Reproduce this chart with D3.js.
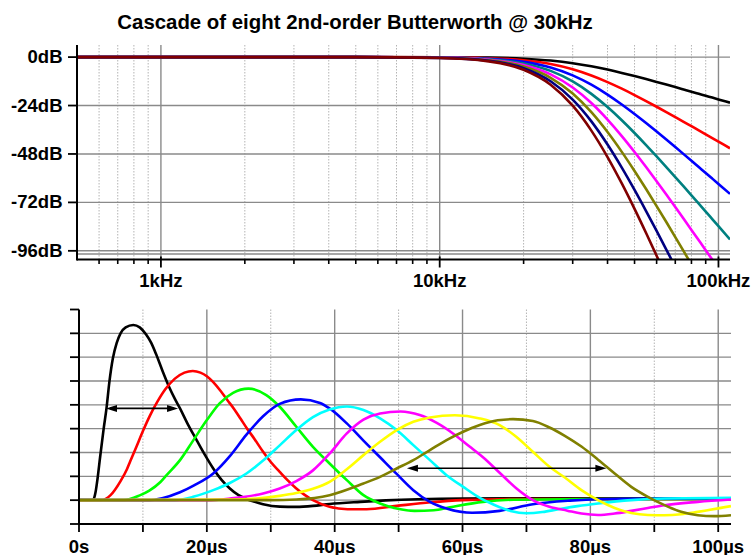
<!DOCTYPE html>
<html>
<head>
<meta charset="utf-8">
<script src="https://cdn.jsdelivr.net/npm/d3@7"></script>
<style>
  html, body { margin: 0; background: #ffffff; }
  svg { display: block; font-family: "Liberation Sans", Arial, sans-serif; font-weight: bold; }
</style>
</head>
<body>
<svg id="chart" width="753" height="555"></svg>
<script>
// ---- Frequency response: n cascaded 2nd-order Butterworth sections, fc = 30 kHz ----
const freqHz = [500, 1000, 2000, 5000, 10000, 15000, 20000, 25000, 30000, 35000, 40000, 45000,
                50000, 55000, 60000, 65000, 70000, 75000, 80000, 85000, 90000, 95000, 100000, 110000];
const gain1 = [0, 0, 0, 0, -0.05, -0.26, -0.78, -1.71, -3.01, -4.55, -6.19, -7.83, -9.40, -10.90, -12.30, -13.62, -14.86, -16.03, -17.12, -18.16, -19.14, -20.07, -20.95, -22.59];
const gain2 = [0, 0, 0, -0.01, -0.11, -0.53, -1.57, -3.42, -6.02, -9.10, -12.38, -15.65, -18.81, -21.80, -24.61, -27.25, -29.73, -32.05, -34.25, -36.32, -38.28, -40.13, -41.90, -45.19];
const gain3 = [0, 0, 0, -0.01, -0.16, -0.79, -2.35, -5.13, -9.03, -13.66, -18.57, -23.48, -28.21, -32.69, -36.91, -40.87, -44.59, -48.08, -51.37, -54.48, -57.41, -60.20, -62.85, -67.78];
const gain4 = [0, 0, 0, -0.01, -0.21, -1.05, -3.13, -6.84, -12.04, -18.21, -24.77, -31.30, -37.61, -43.59, -49.22, -54.50, -59.45, -64.11, -68.50, -72.64, -76.55, -80.27, -83.80, -90.38];
const gain5 = [0, 0, 0, -0.02, -0.27, -1.32, -3.91, -8.55, -15.05, -22.76, -30.96, -39.13, -47.02, -54.49, -61.52, -68.12, -74.32, -80.14, -85.62, -90.80, -95.69, -100.34, -104.75, -112.97];
const gain6 = [0, 0, 0, -0.02, -0.32, -1.58, -4.70, -10.25, -18.06, -27.31, -37.15, -46.96, -56.42, -65.39, -73.82, -81.74, -89.18, -96.16, -102.74, -108.95, -114.83, -120.40, -125.70, -135.57];
const gain7 = [0, 0, 0, -0.02, -0.37, -1.84, -5.48, -11.96, -21.07, -31.86, -43.34, -54.78, -65.82, -76.29, -86.13, -95.37, -104.04, -112.19, -119.87, -127.11, -133.97, -140.47, -146.65, -158.16];
const gain8 = [0, 0, 0, -0.03, -0.43, -2.11, -6.26, -13.67, -24.08, -36.42, -49.53, -62.61, -75.22, -87.18, -98.43, -108.99, -118.90, -128.22, -136.99, -145.27, -153.10, -160.54, -167.60, -180.76];
const gainSeries = [gain1, gain2, gain3, gain4, gain5, gain6, gain7, gain8];
const gainColors = ["#000000", "#ff0000", "#0000ff", "#008080", "#ff00ff", "#808000", "#000080", "#800000"];

const dbTicks = [0, -24, -48, -72, -96];
const dbLabels = ["0dB", "-24dB", "-48dB", "-72dB", "-96dB"];
const freqMajor = [1000, 10000, 100000];
const freqLabels = ["1kHz", "10kHz", "100kHz"];
const dbFloor = -97.6;

// ---- Pulse response after each stage: [time µs, amplitude] ----
const pulse1 = [[0,0],[2.0,0],[2.3,0.05],[2.6,0.35],[2.9,0.9],[3.3,1.8],[3.86,3.0],[4.3,3.85],[4.75,4.95],[5.3,5.95],[5.9,6.6],[6.5,7.0],[7.3,7.25],[8.5,7.35],[9.5,7.25],[10.5,6.95],[11.3,6.6],[12.1,6.1],[13.1,5.4],[14.1,4.75],[15.0,4.25],[15.8,3.85],[17.1,3.15],[18.4,2.52],[19.7,1.9],[21,1.33],[22.3,0.85],[23.6,0.49],[24.9,0.22],[26.2,0.05],[27.5,-0.07],[28.8,-0.17],[31.4,-0.27],[34,-0.28],[36.6,-0.24],[39.2,-0.16],[44,-0.07],[48,-0.01],[53,0.04],[60,0.07],[80,0.08],[102,0.08]];
const pulse2 = [[0,0],[3.5,0],[4.9,0.2],[6.5,0.8],[7.5,1.3],[8.0,1.62],[9.0,2.25],[10.0,2.9],[11.1,3.55],[12.2,4.1],[13.5,4.65],[15,5.1],[16.5,5.35],[17.8,5.42],[19,5.35],[20,5.2],[21,4.95],[22.1,4.6],[23.2,4.2],[24.2,3.85],[25.2,3.45],[26.3,3.0],[27.5,2.55],[28.8,2.03],[30,1.6],[31.4,1.19],[32.7,0.82],[34,0.49],[35.3,0.22],[36.6,0.0],[39.2,-0.28],[42,-0.38],[45,-0.38],[49.7,-0.24],[55,-0.09],[60,0.0],[70,0.05],[102,0.05]];
const pulse3 = [[0,0],[7,0],[9.5,0.2],[11,0.4],[12.7,0.75],[13.7,1.05],[15.8,1.68],[17.9,2.52],[20,3.36],[22,4.06],[24.1,4.5],[26.5,4.68],[29.3,4.41],[31.4,3.92],[34,3.08],[36.6,2.24],[39.2,1.54],[41.9,0.84],[44.5,0.21],[47.1,-0.14],[49.7,-0.35],[52.5,-0.45],[55.5,-0.42],[58,-0.3],[63.2,-0.07],[68,0.02],[80,0.05],[102,0.05]];
const pulse4 = [[0,0],[11,0],[13,0.08],[15.8,0.33],[18,0.62],[21,1.12],[23.6,1.85],[26.2,2.75],[28.8,3.52],[31.4,4.04],[34.7,4.23],[37.7,4.08],[39.2,3.85],[41.9,3.22],[44.5,2.5],[47.1,1.8],[49.7,1.1],[52.3,0.42],[54.9,-0.07],[57.5,-0.35],[61.5,-0.53],[65.8,-0.45],[71,-0.17],[76.8,-0.02],[85,0.06],[102,0.08]];
const pulse5 = [[0,0],[15,0],[18,0.15],[21,0.42],[23.6,0.72],[26.2,1.12],[28.8,1.66],[31.4,2.3],[34,2.94],[36.6,3.48],[39.2,3.8],[41.9,3.93],[44.5,3.78],[47.1,3.43],[49.7,2.94],[52.3,2.31],[54.9,1.68],[57.5,1.05],[60.1,0.56],[62.7,0.1],[65,-0.2],[67.5,-0.45],[70,-0.55],[72.5,-0.5],[75,-0.38],[78,-0.25],[81.2,-0.14],[86.4,0],[91.6,0.07],[102,0.1]];
const pulse6 = [[0,0],[20,0],[23.6,0.07],[28.8,0.28],[31.4,0.49],[34,0.8],[36.6,1.25],[39.2,1.95],[41.9,2.8],[44.5,3.38],[47.1,3.64],[50.3,3.72],[53.3,3.57],[55.9,3.25],[58.5,2.8],[61.1,2.25],[63.2,1.8],[65.8,1.15],[68.4,0.5],[71,0.0],[73.6,-0.28],[76.4,-0.44],[78.6,-0.56],[81.2,-0.62],[83.8,-0.56],[86.4,-0.45],[89,-0.33],[91.6,-0.21],[96.8,-0.07],[102,0.03]];
const pulse7 = [[0,0],[25,0.03],[31.4,0.18],[34,0.3],[36.6,0.48],[39.2,0.77],[41.9,1.3],[44.5,1.89],[47.1,2.45],[49.7,2.94],[52.3,3.29],[54.9,3.47],[58.8,3.56],[62.7,3.43],[65.8,3.15],[68.4,2.66],[71,2.03],[73.6,1.4],[76,0.95],[78.6,0.42],[81.2,0.0],[83.8,-0.33],[86.4,-0.54],[89,-0.62],[91.6,-0.63],[94.2,-0.59],[96.8,-0.49],[102,-0.25]];
const pulse8 = [[0,0],[30,0],[34,0.03],[39.2,0.21],[44.5,0.7],[47.1,0.98],[49.7,1.33],[52.3,1.68],[54.9,2.1],[57.5,2.52],[60.1,2.87],[62.7,3.15],[65.5,3.35],[67.9,3.40],[71,3.32],[73.6,3.05],[76,2.7],[78.6,2.25],[81.2,1.7],[83.8,1.12],[86.4,0.56],[89,0.14],[91.6,-0.21],[94.2,-0.49],[96.8,-0.63],[99.4,-0.67],[102,-0.63]];
const pulseSeries = [pulse1, pulse2, pulse3, pulse4, pulse5, pulse6, pulse7, pulse8];
const pulseColors = ["#000000", "#ff0000", "#00ff00", "#0000ff", "#00ffff", "#ff00ff", "#ffff00", "#808000"];

const timeMajor = [0, 20, 40, 60, 80, 100];
const timeLabels = ["0s", "20µs", "40µs", "60µs", "80µs", "100µs"];
const timeMinor = [10, 30, 50, 70, 90];
const ampTicks = [-1, 0, 1, 2, 3, 4, 5, 6, 7, 8];
const ampGrid = [0, 1, 2, 3, 4, 5, 6, 7];

// width spans marked with double-headed arrows: [start µs, end µs, amplitude]
const spanArrows = [[4.22, 15.5, 3.85], [51.3, 82.5, 1.34]];

const titleText = "Cascade of eight 2nd-order Butterworth @ 30kHz";

// ---- drawing ----
const svg = d3.select("#chart");
const GRID = "#8a8a8a", MINOR = "#b4b4b4";

svg.append("text")
  .attr("x", 355).attr("y", 28.5)
  .attr("text-anchor", "middle")
  .style("font-size", "20.4px")
  .text(titleText);

// Bode panel
const fx = d3.scaleLog().domain([500, 110000]).range([77, 730]);
const gy = d3.scaleLinear().domain([6, -100.3]).range([45, 259.5]);
const bode = svg.append("g");

const minorFreq = fx.ticks().filter(f => !freqMajor.includes(f) && f > 500);
bode.selectAll("line.fminor").data(minorFreq).join("line")
  .attr("x1", d => fx(d)).attr("x2", d => fx(d))
  .attr("y1", gy.range()[0]).attr("y2", gy.range()[1])
  .attr("stroke", MINOR).attr("stroke-width", 1).attr("stroke-dasharray", "1.5,1.5");
bode.selectAll("line.fmajor").data(freqMajor).join("line")
  .attr("x1", d => fx(d)).attr("x2", d => fx(d))
  .attr("y1", gy.range()[0]).attr("y2", gy.range()[1])
  .attr("stroke", GRID).attr("stroke-width", 1.4);
bode.selectAll("line.dbgrid").data(dbTicks.concat([dbFloor])).join("line")
  .attr("x1", fx.range()[0]).attr("x2", fx.range()[1])
  .attr("y1", d => gy(d)).attr("y2", d => gy(d))
  .attr("stroke", GRID).attr("stroke-width", 1.4);

svg.append("clipPath").attr("id", "clipTop").append("rect")
  .attr("x", fx.range()[0]).attr("y", gy.range()[0])
  .attr("width", fx.range()[1] - fx.range()[0]).attr("height", gy.range()[1] - gy.range()[0]);

const gainLine = d3.line().curve(d3.curveMonotoneX)
  .x((d, i) => fx(freqHz[i])).y(d => gy(d));
bode.append("g").attr("clip-path", "url(#clipTop)")
  .selectAll("path").data(gainSeries).join("path")
  .attr("d", d => gainLine(d))
  .attr("fill", "none")
  .attr("stroke", (d, i) => gainColors[i])
  .attr("stroke-width", 2.6)
  .attr("stroke-linejoin", "round");

// Bode axes
const xAxisTop = bode.append("g").attr("transform", `translate(0,${gy.range()[1]})`);
xAxisTop.append("line").attr("x1", fx.range()[0]).attr("x2", fx.range()[1])
  .attr("stroke", "#000").attr("stroke-width", 2);
xAxisTop.selectAll("line.mt").data(minorFreq).join("line")
  .attr("x1", d => fx(d)).attr("x2", d => fx(d)).attr("y1", 0).attr("y2", 4.5)
  .attr("stroke", "#000").attr("stroke-width", 1.6);
xAxisTop.selectAll("line.Mt").data(freqMajor).join("line")
  .attr("x1", d => fx(d)).attr("x2", d => fx(d)).attr("y1", -3).attr("y2", 8)
  .attr("stroke", "#000").attr("stroke-width", 1.8);
xAxisTop.selectAll("text").data(freqMajor).join("text")
  .attr("x", d => fx(d)).attr("y", 27.8)
  .attr("text-anchor", "middle").style("font-size", "18.5px")
  .text((d, i) => freqLabels[i]);

const yAxisTop = bode.append("g");
yAxisTop.append("line").attr("x1", 77).attr("x2", 77)
  .attr("y1", gy.range()[0]).attr("y2", gy.range()[1] + 1)
  .attr("stroke", "#000").attr("stroke-width", 2);
yAxisTop.selectAll("line.t").data(dbTicks).join("line")
  .attr("x1", 68).attr("x2", 77).attr("y1", d => gy(d)).attr("y2", d => gy(d))
  .attr("stroke", "#000").attr("stroke-width", 1.8);
yAxisTop.selectAll("text").data(dbTicks).join("text")
  .attr("x", 62.5).attr("y", d => gy(d) + 6)
  .attr("text-anchor", "end").style("font-size", "18.5px")
  .text((d, i) => dbLabels[i]);

// Pulse panel
const tx = d3.scaleLinear().domain([0, 102]).range([79, 731]);
const vy = d3.scaleLinear().domain([-1, 8]).range([524, 309.5]);
const pulsePanel = svg.append("g");

pulsePanel.selectAll("line.tminor").data(timeMinor).join("line")
  .attr("x1", d => tx(d)).attr("x2", d => tx(d))
  .attr("y1", vy(8)).attr("y2", vy(-1))
  .attr("stroke", MINOR).attr("stroke-width", 1).attr("stroke-dasharray", "1.5,1.5");
pulsePanel.selectAll("line.tmajor").data(timeMajor.filter(t => t > 0)).join("line")
  .attr("x1", d => tx(d)).attr("x2", d => tx(d))
  .attr("y1", vy(8)).attr("y2", vy(-1))
  .attr("stroke", GRID).attr("stroke-width", 1.4);
pulsePanel.selectAll("line.agrid").data(ampGrid).join("line")
  .attr("x1", tx.range()[0]).attr("x2", tx.range()[1])
  .attr("y1", d => vy(d)).attr("y2", d => vy(d))
  .attr("stroke", GRID).attr("stroke-width", 1.4);

svg.append("clipPath").attr("id", "clipBot").append("rect")
  .attr("x", tx.range()[0]).attr("y", vy(8))
  .attr("width", tx.range()[1] - tx.range()[0]).attr("height", vy(-1) - vy(8));

const pulseLine = d3.line().curve(d3.curveMonotoneX)
  .x(d => tx(d[0])).y(d => vy(d[1]));
pulsePanel.append("g").attr("clip-path", "url(#clipBot)")
  .selectAll("path").data(pulseSeries).join("path")
  .attr("d", d => pulseLine(d))
  .attr("fill", "none")
  .attr("stroke", (d, i) => pulseColors[i])
  .attr("stroke-width", 2.6)
  .attr("stroke-linejoin", "round");

// span arrows
const arrows = pulsePanel.append("g");
spanArrows.forEach(([t0, t1, v]) => {
  const x0 = tx(t0), x1 = tx(t1), y = vy(v), head = 11, half = 3.5;
  arrows.append("line").attr("x1", x0 + 4).attr("x2", x1 - 4).attr("y1", y).attr("y2", y)
    .attr("stroke", "#000").attr("stroke-width", 1.6);
  arrows.append("path")
    .attr("d", `M${x0},${y}L${x0 + head},${y - half}L${x0 + head},${y + half}Z`).attr("fill", "#000");
  arrows.append("path")
    .attr("d", `M${x1},${y}L${x1 - head},${y - half}L${x1 - head},${y + half}Z`).attr("fill", "#000");
});

// pulse axes
const xAxisBot = pulsePanel.append("g").attr("transform", `translate(0,${vy(-1)})`);
xAxisBot.append("line").attr("x1", tx.range()[0]).attr("x2", tx.range()[1])
  .attr("stroke", "#000").attr("stroke-width", 2);
xAxisBot.selectAll("line.t").data(timeMajor.concat(timeMinor)).join("line")
  .attr("x1", d => tx(d)).attr("x2", d => tx(d)).attr("y1", 0).attr("y2", 8)
  .attr("stroke", "#000").attr("stroke-width", 1.8);
xAxisBot.selectAll("text").data(timeMajor).join("text")
  .attr("x", d => tx(d)).attr("y", 28.5)
  .attr("text-anchor", "middle").style("font-size", "18.5px")
  .text((d, i) => timeLabels[i]);

const yAxisBot = pulsePanel.append("g");
yAxisBot.append("line").attr("x1", 79).attr("x2", 79)
  .attr("y1", vy(8)).attr("y2", vy(-1))
  .attr("stroke", "#000").attr("stroke-width", 2);
yAxisBot.selectAll("line.t").data(ampTicks).join("line")
  .attr("x1", 70).attr("x2", 79).attr("y1", d => vy(d)).attr("y2", d => vy(d))
  .attr("stroke", "#000").attr("stroke-width", 1.8);
</script>
</body>
</html>
